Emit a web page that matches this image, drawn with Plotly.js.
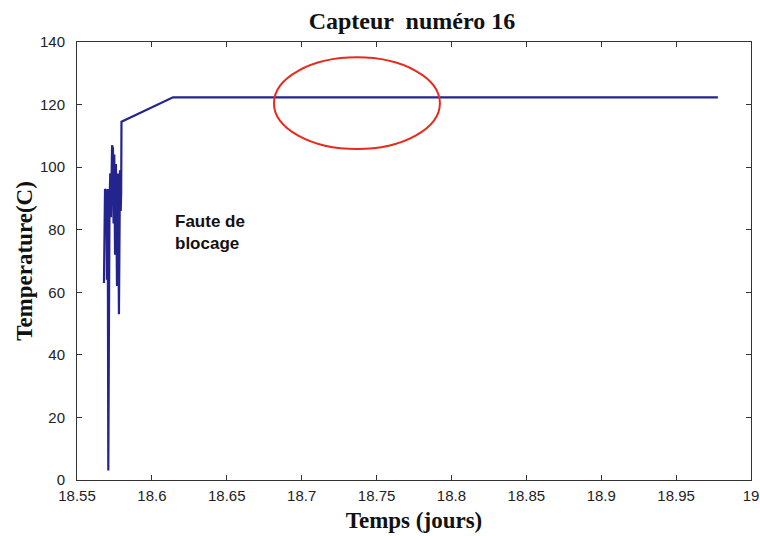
<!DOCTYPE html>
<html>
<head>
<meta charset="utf-8">
<script src="https://cdn.plot.ly/plotly-3.0.1.min.js"></script>
<style>html,body{margin:0;padding:0;background:#fff;}#chart{width:760px;height:536px;}</style>
</head>
<body>
<div id="chart"></div>
<script>
// Time (days) and temperature (C)
const timeDays = [18.5680, 18.5687, 18.5697, 18.5700, 18.5705, 18.5709, 18.5717, 18.5722, 18.5727, 18.5734,
  18.5740, 18.5744, 18.5749, 18.5754, 18.5760, 18.5767, 18.5774, 18.5780, 18.5787, 18.5792,
  18.5795, 18.5797, 18.6141, 18.9779];
const temperature = [63, 93, 92, 64, 93, 3, 88, 98, 84, 107,
  106, 82, 104, 72, 101, 62, 98, 53, 99, 86,
  92, 114.5, 122.3, 122.3];
const ellipseX = [18.6815, 18.7923];
const ellipseY = [105.8, 135.1];
const noteText = "Faute de<br>blocage";
const notePos = [18.6141, 79];
const xTicks = [18.55, 18.6, 18.65, 18.7, 18.75, 18.8, 18.85, 18.9, 18.95, 19];
const yTicks = [0, 20, 40, 60, 80, 100, 120, 140];

const trace = {
  x: timeDays, y: temperature, type: 'scatter', mode: 'lines',
  line: {color: '#24248f', width: 2.2}, hoverinfo: 'skip'
};

const axisCommon = {
  showgrid: false, zeroline: false, showline: true, linecolor: '#333', linewidth: 1,
  mirror: 'ticks', ticks: 'inside', ticklen: 5, tickcolor: '#333',
  tickfont: {family: 'Liberation Sans, Arial', size: 15, color: '#222'}
};

const layout = {
  width: 760, height: 536,
  margin: {l: 77, r: 9, t: 42, b: 56},
  paper_bgcolor: '#fff', plot_bgcolor: '#fff',
  showlegend: false,
  title: {text: 'Capteur  numéro 16', x: 0.542, xanchor: 'center', y: 0.962, yanchor: 'middle',
    font: {family: 'Liberation Serif, Times New Roman', size: 24, color: '#111', weight: 'bold'}},
  xaxis: Object.assign({}, axisCommon, {
    range: [18.55, 19], tickvals: xTicks, ticktext: xTicks.map(String), ticklabelstandoff: 2,
    title: {text: 'Temps (jours)', standoff: 8,
      font: {family: 'Liberation Serif, Times New Roman', size: 23, color: '#111', weight: 'bold'}}
  }),
  yaxis: Object.assign({}, axisCommon, {
    range: [0, 140], tickvals: yTicks, ticktext: yTicks.map(String), ticklabelstandoff: 8,
    title: {text: 'Temperature(C)', standoff: 0,
      font: {family: 'Liberation Serif, Times New Roman', size: 23, color: '#111', weight: 'bold'}}
  }),
  shapes: [{
    type: 'circle', xref: 'x', yref: 'y',
    x0: ellipseX[0], x1: ellipseX[1], y0: ellipseY[0], y1: ellipseY[1],
    line: {color: '#e62a1c', width: 2}
  }],
  annotations: [{
    x: notePos[0], y: notePos[1], xref: 'x', yref: 'y', text: noteText,
    showarrow: false, xanchor: 'left', yanchor: 'middle', align: 'left',
    font: {family: 'Liberation Sans, Arial', size: 17, color: '#111', weight: 'bold'}
  }]
};

Plotly.newPlot('chart', [trace], layout, {displayModeBar: false, staticPlot: true});
</script>
</body>
</html>
